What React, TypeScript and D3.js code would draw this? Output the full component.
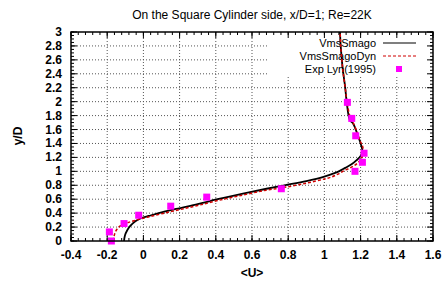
import React from "react";
import * as d3 from "d3";

const W = 443;
const H = 284;

const titleText = "On the Square Cylinder side, x/D=1; Re=22K";
const xLabel = "<U>";
const yLabel = "y/D";
const xTicks = [-0.4, -0.2, 0, 0.2, 0.4, 0.6, 0.8, 1, 1.2, 1.4, 1.6];
const yTicks = [0, 0.2, 0.4, 0.6, 0.8, 1, 1.2, 1.4, 1.6, 1.8, 2, 2.2, 2.4, 2.6, 2.8, 3];
const seriesNames = ["VmsSmago", "VmsSmagoDyn", "Exp Lyn(1995)"];

// VmsSmago [u, y]
const smagoU = [-0.107, -0.102, -0.09, -0.075, -0.06, -0.04, -0.01, 0.03, 0.07, 0.18, 0.3, 0.41, 0.55, 0.68, 0.78, 0.9, 0.995, 1.04, 1.08, 1.115, 1.15, 1.178, 1.2, 1.21, 1.2, 1.18, 1.16, 1.14, 1.123, 1.115, 1.1, 1.09, 1.086];
const smagoY = [0, 0.08, 0.15, 0.21, 0.25, 0.29, 0.33, 0.36, 0.39, 0.46, 0.53, 0.6, 0.68, 0.75, 0.8, 0.86, 0.92, 0.96, 1.0, 1.05, 1.1, 1.16, 1.22, 1.29, 1.4, 1.55, 1.68, 1.74, 2.0, 2.2, 2.5, 2.8, 3.0];

// VmsSmagoDyn [u, y]
const dynU = [-0.166, -0.162, -0.155, -0.14, -0.125, -0.09, -0.04, 0.02, 0.1, 0.2, 0.3, 0.41, 0.55, 0.68, 0.78, 0.9, 1.0, 1.04, 1.075, 1.11, 1.15, 1.18, 1.2, 1.215, 1.212, 1.195, 1.175, 1.155, 1.14, 1.125, 1.115, 1.1, 1.09, 1.087];
const dynY = [0, 0.07, 0.13, 0.19, 0.22, 0.26, 0.3, 0.34, 0.39, 0.45, 0.51, 0.58, 0.66, 0.73, 0.77, 0.83, 0.89, 0.92, 0.96, 1.01, 1.06, 1.11, 1.17, 1.26, 1.35, 1.45, 1.6, 1.72, 1.8, 2.0, 2.2, 2.5, 2.8, 3.0];

// Exp Lyn (1995)
const expU = [-0.177, -0.188, -0.107, -0.026, 0.151, 0.35, 0.762, 1.169, 1.21, 1.219, 1.173, 1.151, 1.127];
const expY = [0.0, 0.13, 0.25, 0.37, 0.5, 0.63, 0.75, 1.0, 1.13, 1.26, 1.51, 1.76, 1.99];

const L = 71, R = 433, T = 32, B = 241;

export default function App() {
  const x = d3.scaleLinear().domain([-0.4, 1.6]).range([L, R]);
  const y = d3.scaleLinear().domain([0, 3]).range([B, T]);
  const line = d3
    .line<[number, number]>()
    .x((d) => x(d[0]))
    .y((d) => y(d[1]))
    .curve(d3.curveCatmullRom.alpha(0.5));
  const smago: [number, number][] = smagoU.map((u, i) => [u, smagoY[i]]);
  const dyn: [number, number][] = dynU.map((u, i) => [u, dynY[i]]);
  const font = "'Liberation Sans', Arial, sans-serif";
  const xMinor = d3.range(-0.4, 1.6001, 0.04);
  const yMinor = d3.range(0, 3.0001, 0.05);
  const grid = "#555";
  const legendRows = [43, 56, 69];
  return (
    <svg width={W} height={H} style={{ position: "absolute", left: 0, top: 0, background: "#fff" }} fontFamily={font}>
      <rect x={0} y={0} width={W} height={H} fill="#fff" />
      {/* grid */}
      {xTicks.slice(1, -1).map((t) => (
        <line key={"gx" + t} x1={x(t)} x2={x(t)} y1={T} y2={B} stroke={grid} strokeWidth={1} strokeDasharray="1,2" />
      ))}
      {yTicks.slice(1, -1).map((t) => (
        <line key={"gy" + t} x1={L} x2={R} y1={y(t)} y2={y(t)} stroke={grid} strokeWidth={1} strokeDasharray="1,2" />
      ))}
      {/* legend background */}
      <rect x={268} y={34} width={163} height={41} fill="#fff" />
      {/* minor ticks */}
      {xMinor.map((t, i) => (
        <g key={"mx" + i}>
          <line x1={x(t)} x2={x(t)} y1={B} y2={B - 3} stroke="#000" />
          <line x1={x(t)} x2={x(t)} y1={T} y2={T + 3} stroke="#000" />
        </g>
      ))}
      {yMinor.map((t, i) => (
        <g key={"my" + i}>
          <line x1={L} x2={L + 3} y1={y(t)} y2={y(t)} stroke="#000" />
          <line x1={R} x2={R - 3} y1={y(t)} y2={y(t)} stroke="#000" />
        </g>
      ))}
      {/* major ticks + labels */}
      {xTicks.map((t) => (
        <g key={"tx" + t}>
          <line x1={x(t)} x2={x(t)} y1={B} y2={B - 6} stroke="#000" />
          <line x1={x(t)} x2={x(t)} y1={T} y2={T + 6} stroke="#000" />
          <text x={x(t)} y={259} textAnchor="middle" fontSize={12} fontWeight="bold">{String(t)}</text>
        </g>
      ))}
      {yTicks.map((t) => (
        <g key={"ty" + t}>
          <line x1={L} x2={L + 6} y1={y(t)} y2={y(t)} stroke="#000" />
          <line x1={R} x2={R - 6} y1={y(t)} y2={y(t)} stroke="#000" />
          <text x={62} y={y(t) + 4} textAnchor="end" fontSize={12} fontWeight="bold">{String(t)}</text>
        </g>
      ))}
      {/* legend */}
      {seriesNames.map((n, i) => (
        <text key={n} x={376} y={legendRows[i] + 4} textAnchor="end" fontSize={11}>{n}</text>
      ))}
      <line x1={383} x2={416} y1={legendRows[0]} y2={legendRows[0]} stroke="#000" strokeWidth={1.2} />
      <line x1={383} x2={416} y1={legendRows[1]} y2={legendRows[1]} stroke="#d00000" strokeWidth={1.2} strokeDasharray="3,2" />
      <rect x={396} y={legendRows[2] - 3} width={6} height={6} fill="#ff00ff" />
      {/* data */}
      <path d={line(smago) || ""} fill="none" stroke="#000" strokeWidth={1.8} />
      <path d={line(dyn) || ""} fill="none" stroke="#d00000" strokeWidth={1.5} strokeDasharray="3,2" />
      {expU.map((u, i) => (
        <rect key={"e" + i} x={x(u) - 3.5} y={y(expY[i]) - 3.5} width={7} height={7} fill="#ff00ff" />
      ))}
      {/* frame */}
      <rect x={L} y={T} width={R - L} height={B - T} fill="none" stroke="#000" strokeWidth={1.5} />
      {/* titles */}
      <text x={252} y={19} textAnchor="middle" fontSize={12}>{titleText}</text>
      <text x={252} y={277} textAnchor="middle" fontSize={12} fontWeight="bold">{xLabel}</text>
      <text transform="translate(22,136) rotate(-90)" textAnchor="middle" fontSize={12} fontWeight="bold">{yLabel}</text>
    </svg>
  );
}
